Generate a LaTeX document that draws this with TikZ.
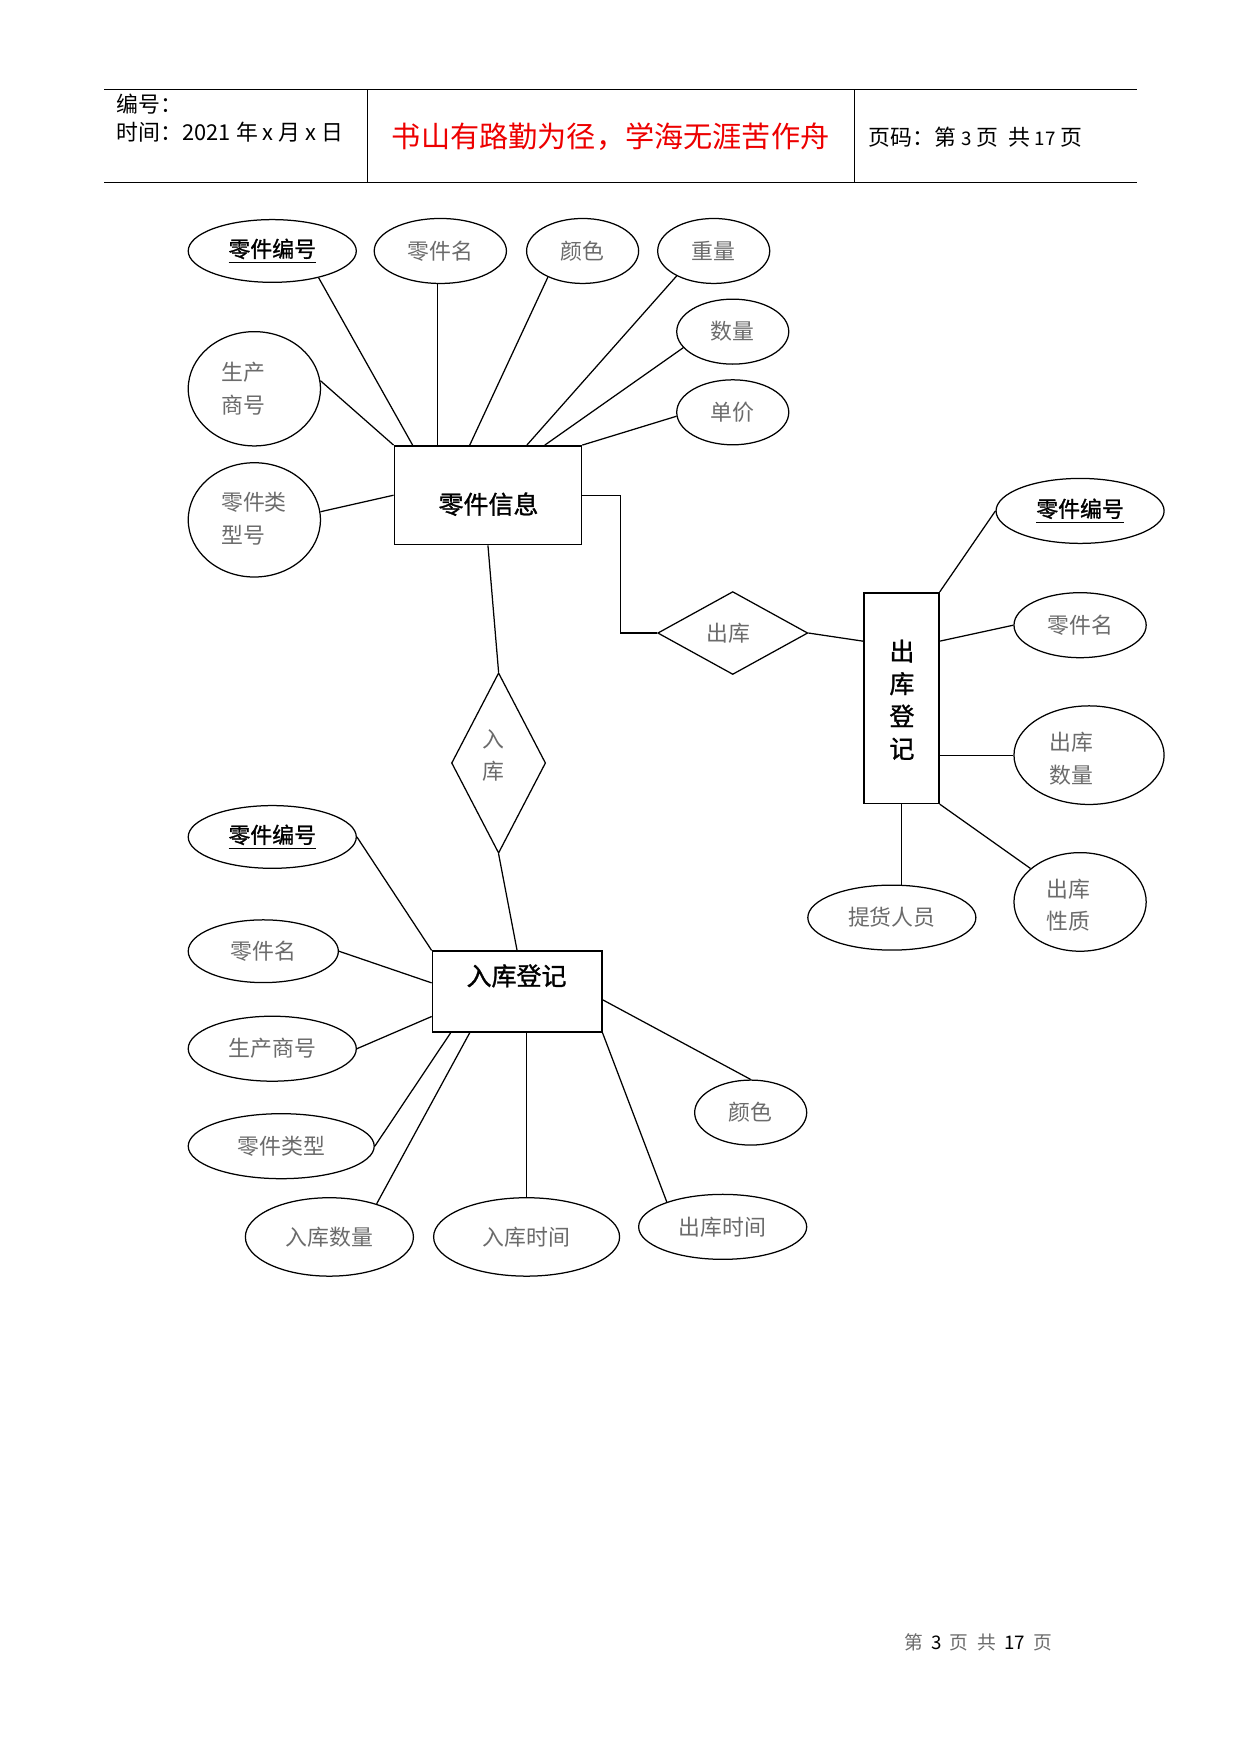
\documentclass[tikz,border=0pt]{standalone}
\usepackage{fontspec}
\setmainfont{Noto Sans CJK SC}
\newfontfamily\semibold[FakeBold=1.2]{Noto Sans CJK SC}
\usetikzlibrary{shapes.geometric,calc}
\newdimen\px \px=0.5378pt
\definecolor{attrgray}{gray}{0.42}
\definecolor{hdrred}{rgb}{0.93,0,0}
\begin{document}
\begin{tikzpicture}[x=0.5378pt,y=-0.5378pt,
  attr/.style 2 args={ellipse,draw,line width=0.6pt,inner sep=0pt,minimum width=2*#1*\px,minimum height=2*#2*\px},
  ent/.style 2 args={draw,line width=0.8pt,inner sep=0pt,minimum width=#1*\px,minimum height=#2*\px},
  rel/.style 2 args={diamond,draw,line width=0.6pt,inner sep=0pt,minimum width=#1*\px,minimum height=#2*\px},
  lbl/.style={font=\fontsize{10.5}{15.6}\selectfont,text=attrgray,inner sep=0pt},
  keylbl/.style={font=\fontsize{10.5}{15.6}\selectfont\semibold,inner sep=0pt},
  elbl/.style={font=\fontsize{12}{15.6}\selectfont\semibold,inner sep=0pt},
  hdr/.style={font=\fontsize{10.5}{13}\selectfont,inner sep=0pt},
  conn/.style={line width=0.6pt},
]
\useasboundingbox[fill=white] (0,0) rectangle (1107.6,1565.5);

% ---------- header ----------
\draw[line width=0.8pt] (93,80) -- (1015,80);
\draw[line width=0.8pt] (93,163) -- (1015,163);
\draw[line width=0.9pt] (328,80) -- (328,163);
\draw[line width=0.4pt] (763,80) -- (763,163);
\node[hdr,anchor=west] (h1) at (104,93) {编号：};
\node[hdr,anchor=west] (h2) at (104,118) {时间：2021 年 x 月 x 日};
\node[font=\fontsize{14}{16}\selectfont,text=hdrred,inner sep=0pt] (h3) at (545,122) {书山有路勤为径，学海无涯苦作舟};
\node[hdr,anchor=west] (h4) at (775,122) {页码：第 {\fontsize{9}{10}\selectfont 3} 页\ \ 共 {\fontsize{9}{10}\selectfont 17} 页};

% ---------- entity: 零件信息 ----------
\node[ent={167}{88}] (info) at (435.5,442) {};
\node[elbl] (infot) at (436,450) {零件信息};

\node[attr={75}{28}] (k1) at (243,224) {};
\node[keylbl] at (k1) {\underline{零件编号}};
\node[attr={59}{29}] (n1) at (393,224) {};
\node[lbl] at (n1) {零件名};
\node[attr={50}{29}] (c1) at (520,224) {};
\node[lbl] at (c1) {颜色};
\node[attr={50}{29}] (w1) at (637,224) {};
\node[lbl] at (w1) {重量};
\node[attr={50}{29}] (q1) at (654,296) {};
\node[lbl] at (q1) {数量};
\node[attr={50}{29}] (p1) at (654,368) {};
\node[lbl] at (p1) {单价};
\node[attr={59}{51}] (s1) at (227,347) {};
\node[lbl,anchor=west,align=left] at (197,347) {生产\\商号};
\node[attr={59}{51}] (t1) at (227,464) {};
\node[lbl,anchor=west,align=left] at (197,463) {零件类\\型号};

\draw[conn] (k1.-30) -- ($(info.north west)+(17,0)$);
\draw[conn] (n1.-95) -- (n1.-95 |- info.north);
\draw[conn] (c1.-143) -- ($(info.north west)+(68,0)$);
\draw[conn] (w1.-146) -- ($(info.north west)+(119,0)$);
\draw[conn] (q1.-162) -- ($(info.north west)+(135,0)$);
\draw[conn] (p1.-176) -- (info.north east);
\draw[conn] (s1.7) -- (info.north west);
\draw[conn] (t1.7) -- (info.west);

% ---------- relationship 出库 ----------
\node[rel={134}{74}] (out) at (654,565) {};
\node[lbl] at (650,565) {出库};
\draw[conn] (info.east) -- ++(34,0) |- (out.west);

% ---------- entity: 出库登记 ----------
\node[ent={67}{188}] (reg) at (804.5,623) {};
\node[elbl,align=center] at (805,624.5) {出\\库\\登\\记};
\draw[conn] (out.east) -- ($(reg.north west)+(0,44)$);

\node[attr={75}{29}] (k2) at (964,456) {};
\node[keylbl] at (k2) {\underline{零件编号}};
\node[attr={59}{29}] (n2) at (964,558) {};
\node[lbl] at (n2) {零件名};
\node[attr={67}{44}] (q2) at (972,674) {};
\node[lbl,anchor=west,align=left] at (936,677) {出库\\数量};
\node[attr={59}{44}] (x2) at (964,805) {};
\node[lbl,anchor=west,align=left] at (934,808) {出库\\性质};
\node[attr={75}{29}] (m2) at (796,819) {};
\node[lbl] at (m2) {提货人员};

\draw[conn] (reg.north east) -- (k2.west);
\draw[conn] ($(reg.north east)+(0,44)$) -- (n2.west);
\draw[conn] (reg.east |- q2.west) -- (q2.west);
\draw[conn] (reg.south east) -- (x2.146);
\draw[conn] (reg.south) -- (reg.south |- m2.north);

% ---------- relationship 入库 ----------
\node[rel={84}{161}] (in) at (445,681) {};
\node[lbl,align=center] at (440,674.5) {入\\库};
\draw[conn] (info.south) -- (in.north);

% ---------- entity: 入库登记 ----------
\node[ent={151}{72}] (rk) at (461.5,885) {};
\node[elbl] at (461,871) {入库登记};
\draw[conn] (in.south) -- (rk.north);

\node[attr={75}{28}] (k3) at (243,747) {};
\node[keylbl] at (k3) {\underline{零件编号}};
\node[attr={67}{28}] (n3) at (235,849) {};
\node[lbl] at (n3) {零件名};
\node[attr={75}{29}] (s3) at (243,936) {};
\node[lbl] at (s3) {生产商号};
\node[attr={83}{29}] (t3) at (251,1023) {};
\node[lbl] at (t3) {零件类型};
\node[attr={75}{35}] (a3) at (294,1104) {};
\node[lbl] at (a3) {入库数量};
\node[attr={83}{35}] (b3) at (470,1104) {};
\node[lbl] at (b3) {入库时间};
\node[attr={75}{29}] (c3) at (645,1095) {};
\node[lbl] at (c3) {出库时间};
\node[attr={50}{29}] (d3) at (670,993) {};
\node[lbl] at (d3) {颜色};

\draw[conn] (k3.east) -- (rk.north west);
\draw[conn] (n3.east) -- ($(rk.north west)+(0,29)$);
\draw[conn] (s3.east) -- ($(rk.north west)+(0,59)$);
\draw[conn] (t3.east) -- ($(rk.south west)+(17,0)$);
\draw[conn] (a3.35) -- ($(rk.south west)+(34,0)$);
\draw[conn] (b3.north |- rk.south) -- (b3.north);
\draw[conn] (c3.156) -- (rk.south east);
\draw[conn] ($(rk.north east)+(0,44)$) -- (d3.north);

% ---------- footer ----------
\node[font=\fontsize{9}{10}\selectfont,text=attrgray,inner sep=0pt] (foot) at (873,1466) {第\ \ {\color{black}3}\ \ 页\ \ 共\ \ {\color{black}17}\ \ 页};
\end{tikzpicture}
\end{document}
